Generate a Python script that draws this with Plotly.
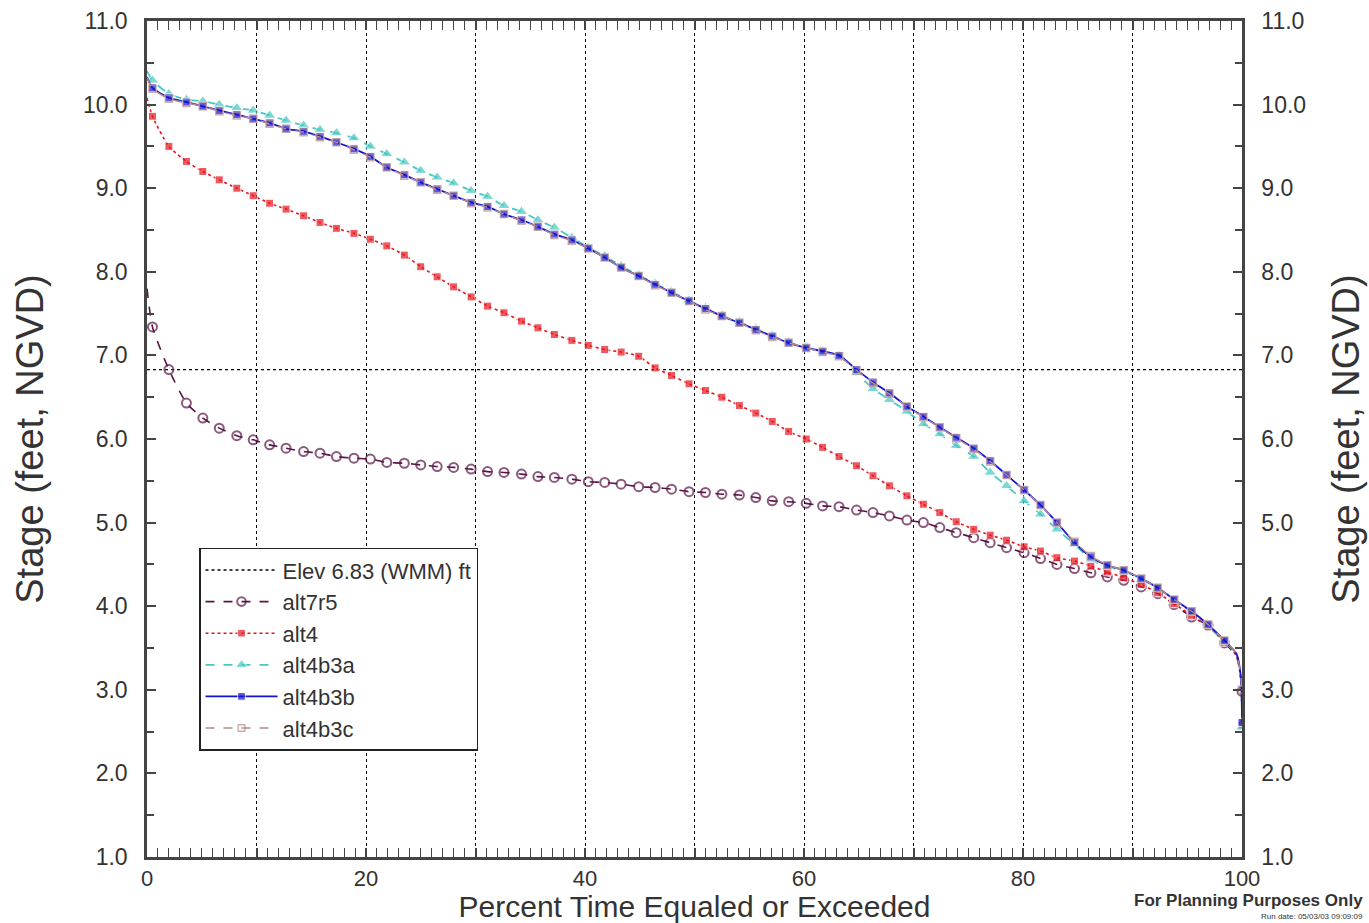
import plotly.graph_objects as go

# Percent of time at which each curve carries a plotted symbol
pct = [0.5, 2.0, 3.6, 5.1, 6.6, 8.2, 9.7, 11.2, 12.7, 14.3, 15.8, 17.3, 18.9,
       20.4, 21.9, 23.5, 25.0, 26.5, 28.0, 29.6, 31.1, 32.6, 34.2, 35.7, 37.2,
       38.8, 40.3, 41.8, 43.3, 44.9, 46.4, 47.9, 49.5, 51.0, 52.5, 54.1, 55.6,
       57.1, 58.6, 60.2, 61.7, 63.2, 64.8, 66.3, 67.8, 69.4, 70.9, 72.4, 73.9,
       75.5, 77.0, 78.5, 80.1, 81.6, 83.1, 84.7, 86.2, 87.7, 89.2, 90.8, 92.3,
       93.8, 95.4, 96.9, 98.4]
# Unmarked points where the curves bend down to the 100 % end
tail_pct = [99.5, 99.9]

alt7r5 = [7.34, 6.83, 6.43, 6.25, 6.13, 6.04, 5.99, 5.93, 5.89, 5.85, 5.83, 5.79,
          5.77, 5.76, 5.72, 5.71, 5.69, 5.67, 5.66, 5.64, 5.61, 5.60, 5.58, 5.55,
          5.54, 5.52, 5.49, 5.48, 5.46, 5.43, 5.42, 5.40, 5.37, 5.36, 5.34, 5.33,
          5.30, 5.26, 5.25, 5.23, 5.20, 5.19, 5.15, 5.12, 5.08, 5.03, 5.00, 4.94,
          4.88, 4.82, 4.76, 4.70, 4.64, 4.57, 4.50, 4.45, 4.40, 4.35, 4.31, 4.23,
          4.15, 4.02, 3.87, 3.77, 3.56]
alt4 = [9.86, 9.50, 9.32, 9.20, 9.10, 9.00, 8.91, 8.82, 8.75, 8.67, 8.59, 8.52,
        8.46, 8.39, 8.31, 8.20, 8.06, 7.94, 7.82, 7.70, 7.59, 7.51, 7.41, 7.33,
        7.25, 7.18, 7.12, 7.07, 7.04, 6.99, 6.85, 6.76, 6.66, 6.58, 6.50, 6.40,
        6.31, 6.21, 6.09, 6.00, 5.90, 5.79, 5.68, 5.56, 5.44, 5.32, 5.22, 5.12,
        5.01, 4.92, 4.85, 4.79, 4.71, 4.66, 4.58, 4.54, 4.48, 4.41, 4.34, 4.26,
        4.16, 4.03, 3.89, 3.76, 3.57]
alt4b3a = [10.29, 10.13, 10.06, 10.04, 10.00, 9.96, 9.93, 9.87, 9.81, 9.75, 9.70,
           9.66, 9.60, 9.50, 9.41, 9.31, 9.21, 9.13, 9.06, 8.97, 8.90, 8.79, 8.72,
           8.62, 8.53, 8.41, 8.29, 8.19, 8.07, 7.96, 7.86, 7.76, 7.66, 7.57, 7.48,
           7.40, 7.32, 7.24, 7.16, 7.10, 7.05, 7.00, 6.79, 6.60, 6.47, 6.33, 6.18,
           6.06, 5.92, 5.79, 5.60, 5.44, 5.26, 5.10, 4.92, 4.74, 4.56, 4.47, 4.42,
           4.32, 4.21, 4.07, 3.93, 3.77, 3.58]
alt4b3b = [10.20, 10.08, 10.03, 9.98, 9.93, 9.88, 9.83, 9.78, 9.71, 9.68, 9.62,
           9.55, 9.47, 9.38, 9.25, 9.16, 9.07, 8.99, 8.91, 8.83, 8.78, 8.69, 8.62,
           8.54, 8.45, 8.38, 8.28, 8.17, 8.05, 7.95, 7.85, 7.75, 7.65, 7.56, 7.47,
           7.39, 7.31, 7.23, 7.15, 7.09, 7.05, 7.00, 6.83, 6.68, 6.55, 6.39, 6.27,
           6.14, 6.02, 5.89, 5.74, 5.57, 5.39, 5.21, 5.00, 4.76, 4.59, 4.49, 4.43,
           4.33, 4.22, 4.08, 3.94, 3.78, 3.59]
alt4b3c = [10.19, 10.07, 10.02, 9.98, 9.92, 9.87, 9.83, 9.77, 9.71, 9.67, 9.61,
           9.55, 9.46, 9.37, 9.25, 9.15, 9.07, 8.98, 8.91, 8.82, 8.77, 8.69, 8.61,
           8.54, 8.44, 8.37, 8.28, 8.17, 8.05, 7.95, 7.84, 7.75, 7.65, 7.55, 7.47,
           7.39, 7.30, 7.22, 7.15, 7.09, 7.04, 6.99, 6.82, 6.67, 6.54, 6.39, 6.26,
           6.14, 6.01, 5.88, 5.73, 5.57, 5.39, 5.21, 5.00, 4.77, 4.60, 4.49, 4.43,
           4.33, 4.22, 4.08, 3.94, 3.78, 3.59]

# Value at 0 %, the two tail points, and the value at 100 %
start = {"alt7r5": 7.80, "alt4": 10.08, "alt4b3a": 10.40, "alt4b3b": 10.33, "alt4b3c": 10.32}
tail = {"alt7r5": [3.40, 3.12], "alt4": [3.40, 3.12], "alt4b3a": [3.42, 3.15],
        "alt4b3b": [3.43, 3.15], "alt4b3c": [3.43, 3.15]}
end = {"alt7r5": 2.98, "alt4": 2.58, "alt4b3a": 2.55, "alt4b3b": 2.61, "alt4b3c": 3.00}

elev_wmm = 6.83
x_ticks = [0, 10, 20, 30, 40, 50, 60, 70, 80, 90, 100]
x_labels = ["0", "", "20", "", "40", "", "60", "", "80", "", "100"]
y_ticks = [1, 2, 3, 4, 5, 6, 7, 8, 9, 10, 11]

FONT = "Liberation Sans, Arial, sans-serif"
TEXT = "#333333"
AXIS = "#444444"

styles = {
    "alt7r5": dict(color="#5a1446", dash="dash", width=1.6,
                   marker=dict(symbol="circle-open", size=9, line=dict(width=2, color="#4a0a38"))),
    "alt4": dict(color="#e8141e", dash="dot", width=1.6,
                 marker=dict(symbol="square", size=8, color="#e8141e")),
    "alt4b3a": dict(color="#48c8c0", dash="dash", width=1.8,
                    marker=dict(symbol="triangle-up", size=11, color="#48c8c0")),
    "alt4b3b": dict(color="#1414d0", dash="solid", width=1.8,
                    marker=dict(symbol="square", size=8, color="#1414d0")),
    "alt4b3c": dict(color="#b88a8a", dash="dash", width=1.4,
                    marker=dict(symbol="square-open", size=7, line=dict(width=1.5, color="#a07080"))),
}
series = {"alt7r5": alt7r5, "alt4": alt4, "alt4b3a": alt4b3a,
          "alt4b3b": alt4b3b, "alt4b3c": alt4b3c}

fig = go.Figure()

fig.add_trace(go.Scatter(
    x=[0, 100], y=[elev_wmm, elev_wmm], mode="lines",
    name="Elev 6.83 (WMM) ft",
    line=dict(color="black", dash="dot", width=1.4),
))

for name, vals in series.items():
    st = styles[name]
    xs = [0] + pct + tail_pct + [100]
    ys = [start[name]] + vals + tail[name] + [end[name]]
    msize = st["marker"]["size"]
    sizes = [0] + [msize] * len(pct) + [0] * len(tail_pct) + [msize]
    marker = dict(st["marker"])
    marker["size"] = sizes
    fig.add_trace(go.Scatter(
        x=xs, y=ys, mode="lines+markers", name=name,
        line=dict(color=st["color"], dash=st["dash"], width=st["width"], shape="spline", smoothing=0.6),
        marker=marker,
    ))

# Empty trace so the right-hand stage axis is drawn
fig.add_trace(go.Scatter(x=[None], y=[None], yaxis="y2", showlegend=False, hoverinfo="skip"))

yaxis_common = dict(
    range=[1, 11], tickvals=y_ticks, tickformat=".1f",
    ticks="inside", ticklen=9, tickwidth=1.5, tickcolor=AXIS,
    minor=dict(dtick=0.5, tick0=1, ticks="inside", ticklen=7, tickwidth=1.5, tickcolor=AXIS, showgrid=False),
    showline=True, linecolor=AXIS, linewidth=2.5,
    showgrid=False, zeroline=False, automargin=False,
    tickfont=dict(family=FONT, size=23, color=TEXT),
    title=dict(text="Stage (feet, NGVD)", font=dict(family=FONT, size=38, color=TEXT), standoff=28),
    ticklabelstandoff=12,
)

fig.update_layout(
    width=1369, height=923,
    margin=dict(l=147, r=127, t=21, b=66, autoexpand=False),
    paper_bgcolor="white", plot_bgcolor="white",
    font=dict(family=FONT, color=TEXT),
    showlegend=True,
    legend=dict(
        x=0.0475, y=0.370, xanchor="left", yanchor="top",
        bgcolor="white", bordercolor="#222222", borderwidth=1.5,
        font=dict(family=FONT, size=22, color=TEXT),
        itemwidth=72, tracegroupgap=0,
    ),
    xaxis=dict(
        range=[0, 100], tickmode="array", tickvals=x_ticks, ticktext=x_labels,
        ticks="inside", ticklen=9, tickwidth=1.5, tickcolor=AXIS,
        minor=dict(tickmode="linear", tick0=0, dtick=1, ticks="inside", ticklen=5,
                   tickwidth=1, tickcolor=AXIS, showgrid=False),
        showline=True, linecolor=AXIS, linewidth=2.5, mirror="allticks",
        showgrid=True, gridcolor="black", gridwidth=1.3, griddash="dot",
        zeroline=False, automargin=False,
        tickfont=dict(family=FONT, size=22, color=TEXT),
        title=dict(text="Percent Time Equaled or Exceeded",
                   font=dict(family=FONT, size=30, color=TEXT), standoff=8),
    ),
    yaxis=dict(**yaxis_common),
    yaxis2=dict(overlaying="y", side="right", **yaxis_common),
    annotations=[
        dict(text="<b>For Planning Purposes Only</b>", xref="paper", yref="paper",
             x=1.112, y=-0.0526, xanchor="right", yanchor="middle", showarrow=False,
             font=dict(family=FONT, size=17, color=TEXT)),
        dict(text="Run date: 05/03/03 09:09:09", xref="paper", yref="paper",
             x=1.112, y=-0.079, xanchor="right", yanchor="bottom", showarrow=False,
             font=dict(family=FONT, size=8, color=TEXT)),
    ],
)

fig.write_html("out.html")
